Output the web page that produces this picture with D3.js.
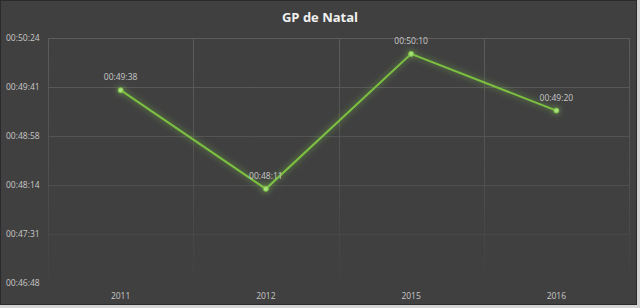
<!DOCTYPE html>
<html>
<head>
<meta charset="utf-8">
<script src="https://cdn.jsdelivr.net/npm/d3@7"></script>
<style>
  body { margin: 0; background: #d4d4d4; }
  svg { display: block; }
</style>
</head>
<body>
<script>
const years = ["2011", "2012", "2015", "2016"];
const times = ["00:49:38", "00:48:11", "00:50:10", "00:49:20"];
const yTicks = ["00:46:48", "00:47:31", "00:48:14", "00:48:58", "00:49:41", "00:50:24"];

const toSec = s => { const [h, m, x] = s.split(":").map(Number); return h * 3600 + m * 60 + x; };
const data = years.map((y, i) => ({ year: y, label: times[i], sec: toSec(times[i]) }));
const tickSecs = [2808, 2851.2, 2894.4, 2937.6, 2980.8, 3024];

const W = 640, H = 308;
const margin = { top: 38, right: 11, bottom: 25, left: 48 };

const svg = d3.select("body").append("svg").attr("width", W).attr("height", H);

// chart panel
svg.append("rect").attr("x", 0.5).attr("y", 0.5).attr("width", 636).attr("height", 304)
  .attr("fill", "#404040").attr("stroke", "#2b2b2b");

const defs = svg.append("defs");
const grad = defs.append("linearGradient").attr("id", "gridfade")
  .attr("gradientUnits", "userSpaceOnUse")
  .attr("x1", 0).attr("y1", margin.top).attr("x2", 0).attr("y2", H - margin.bottom);
grad.append("stop").attr("offset", "0%").attr("stop-color", "#5c5c5c");
grad.append("stop").attr("offset", "55%").attr("stop-color", "#505050");
grad.append("stop").attr("offset", "100%").attr("stop-color", "#414141");

const glow = defs.append("filter").attr("id", "glow")
  .attr("x", "-20%").attr("y", "-20%").attr("width", "140%").attr("height", "140%");
glow.append("feGaussianBlur").attr("in", "SourceGraphic").attr("stdDeviation", 3.2).attr("result", "b");
glow.append("feComponentTransfer").attr("in", "b").attr("result", "b2")
  .append("feFuncA").attr("type", "linear").attr("slope", 0.8);
const merge = glow.append("feMerge");
merge.append("feMergeNode").attr("in", "b2");
merge.append("feMergeNode").attr("in", "SourceGraphic");

const x = d3.scaleBand().domain(years).range([margin.left, W - margin.right]);
const y = d3.scaleLinear().domain([2808, 3024]).range([H - margin.bottom, margin.top]);

// horizontal grid
svg.append("g").selectAll("line").data(tickSecs.slice(1)).join("line")
  .attr("x1", margin.left).attr("x2", W - margin.right)
  .attr("y1", d => Math.round(y(d)) + 0.5).attr("y2", d => Math.round(y(d)) + 0.5)
  .attr("stroke", "url(#gridfade)");

// vertical grid
const vx = years.map(d => x(d)).concat([W - margin.right]);
svg.append("g").selectAll("line").data(vx).join("line")
  .attr("x1", d => Math.round(d) + 0.5).attr("x2", d => Math.round(d) + 0.5)
  .attr("y1", margin.top).attr("y2", H - margin.bottom)
  .attr("stroke", "url(#gridfade)");

// y axis labels
svg.append("g").selectAll("text").data(tickSecs).join("text")
  .attr("x", 6).attr("y", d => y(d) + 3)
  .attr("fill", "#c8c8c8").attr("font-family", "Open Sans, sans-serif").attr("font-size", 8.5)
  .text((d, i) => yTicks[i]);

// x axis labels
svg.append("g").selectAll("text").data(years).join("text")
  .attr("x", d => x(d) + x.bandwidth() / 2).attr("y", 299)
  .attr("text-anchor", "middle")
  .attr("fill", "#c8c8c8").attr("font-family", "Open Sans, sans-serif").attr("font-size", 8.5)
  .text(d => d);

// title
svg.append("text").attr("x", 320).attr("y", 22).attr("text-anchor", "middle")
  .attr("fill", "#f0f0f0").attr("font-family", "Open Sans, sans-serif")
  .attr("font-size", 13).attr("font-weight", "bold").text("GP de Natal");

const cx = d => x(d.year) + x.bandwidth() / 2;
const line = d3.line().x(cx).y(d => y(d.sec));

const g = svg.append("g").attr("filter", "url(#glow)");
g.append("path").datum(data).attr("d", line)
  .attr("fill", "none").attr("stroke", "#7cc043").attr("stroke-width", 2);
g.selectAll("circle").data(data).join("circle")
  .attr("cx", cx).attr("cy", d => y(d.sec)).attr("r", 2.5)
  .attr("fill", "#a6e07a").attr("stroke", "#7cc043").attr("stroke-width", 1);

// data labels
svg.append("g").selectAll("text").data(data).join("text")
  .attr("x", cx).attr("y", d => y(d.sec) - 10)
  .attr("text-anchor", "middle")
  .attr("fill", "#c8c8c8").attr("font-family", "Open Sans, sans-serif").attr("font-size", 8.5)
  .text(d => d.label);
</script>
</body>
</html>
